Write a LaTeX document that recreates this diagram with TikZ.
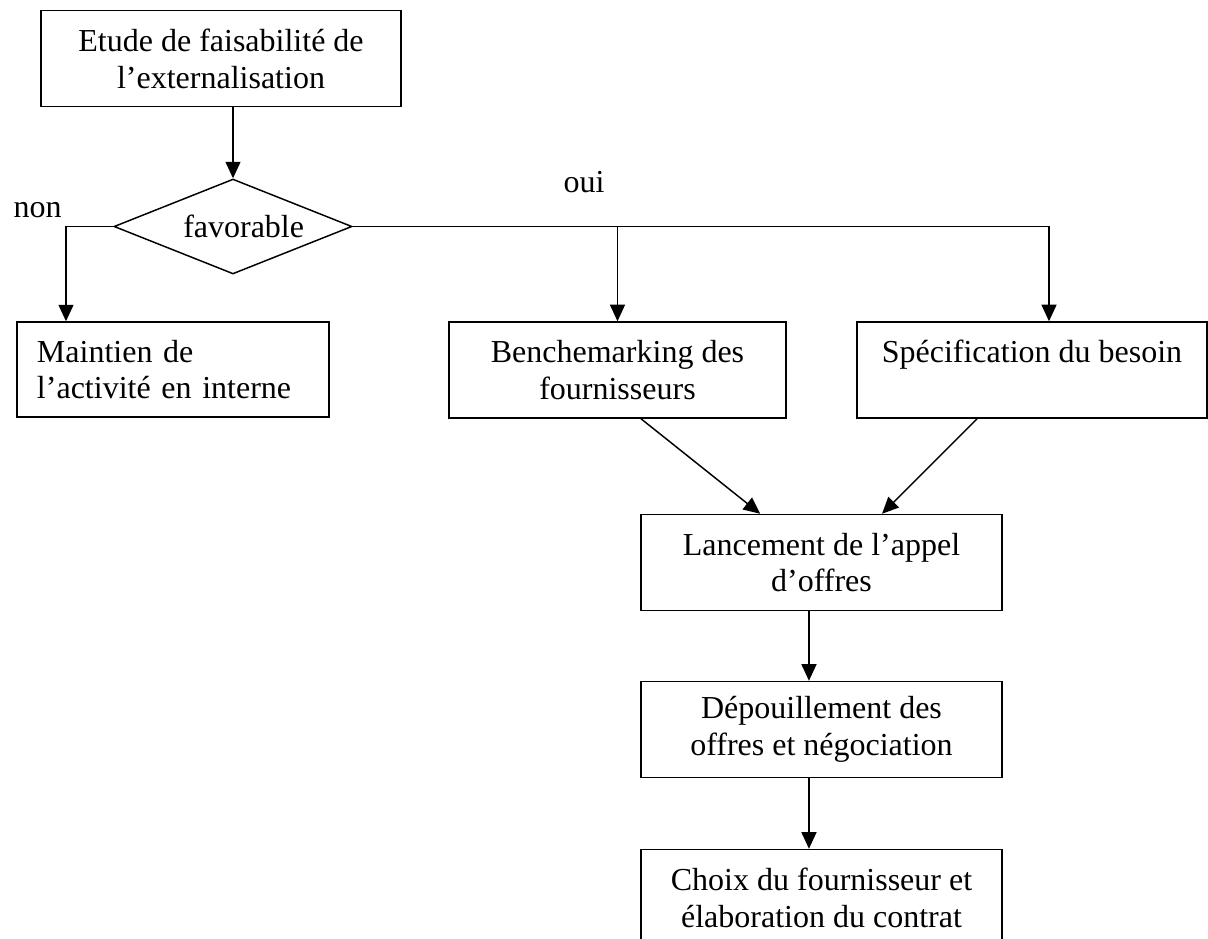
\documentclass[tikz,border=0pt]{standalone}
\usepackage{fontspec}
\setmainfont{Liberation Serif}
\usetikzlibrary{shapes.geometric,arrows.meta}
\begin{document}
\begin{tikzpicture}[x=0.375pt,y=-0.375pt, line width=0.55pt,
		every node/.style={ text=black, inner sep=0pt, font=\fontsize{12}{13.8}\selectfont },
		box/.style={ draw, rectangle, align=center, minimum width=#1, minimum height=36pt },
		decision/.style={ draw, diamond, aspect=2.5, minimum width=89.25pt, minimum height=35.6pt },
		arr/.style={ -{Triangle[length=6.2pt,width=5.6pt]} } ]
			\useasboundingbox (0,0) rectangle (1208,939);
			\clip (0,0) rectangle (1208,939);

			\node[box=135pt] (etude) at (221,58.5) {Etude de faisabilité de\\l’externalisation};
			\node[decision] (fav) at (233,226.5) {\hspace*{8pt}favorable};
			\node[anchor=base west] (non) at (13,217) {non};
			\node[anchor=base] (oui) at (584,192) {oui};

			\node[draw, rectangle, align=left, text width=102pt, inner xsep=7.5pt, minimum height=35.6pt] (maint) at (173,369.5) {Maintien de\\l’activité en interne};
			\node[box=126.4pt] (bench) at (617.5,370) {Benchemarking des\\fournisseurs};
			\node[box=131.25pt] (spec) at (1032,370) {Spécification du besoin\\\vphantom{fournisseurs}};

			\node[box=135.4pt] (lanc) at (821.5,562.5) {Lancement de l’appel\\d’offres};
			\node[box=135.4pt] (dep) at (821.5,729.5) {Dépouillement des\\offres et négociation};
			\node[box=135.4pt] (choix) at (821.5,897.5) {Choix du fournisseur et\\élaboration du contrat};

			\coordinate (nonturn) at (66,226.5);
			\coordinate (ouiturn) at (1049,226.5);

			\draw[arr] (fav.north |- etude.south) -- (fav.north);
			\draw[arr] (fav.west) -- (nonturn) -- (nonturn |- maint.north);
			\draw[arr] (fav.east) -- (ouiturn) -- (ouiturn |- spec.north);
			\draw[arr] (bench.north |- fav.east) -- (bench.north);
			\draw[arr] ([xshift=8.8pt]bench.south) -- ([xshift=-23pt]lanc.north);
			\draw[arr] ([xshift=-20.6pt]spec.south) -- ([xshift=22.7pt]lanc.north);
			\draw[arr] ([xshift=-4.7pt]lanc.south) -- ([xshift=-4.7pt]dep.north);
			\draw[arr] ([xshift=-4.7pt]dep.south) -- ([xshift=-4.7pt]choix.north);
		\end{tikzpicture}
\end{document}
